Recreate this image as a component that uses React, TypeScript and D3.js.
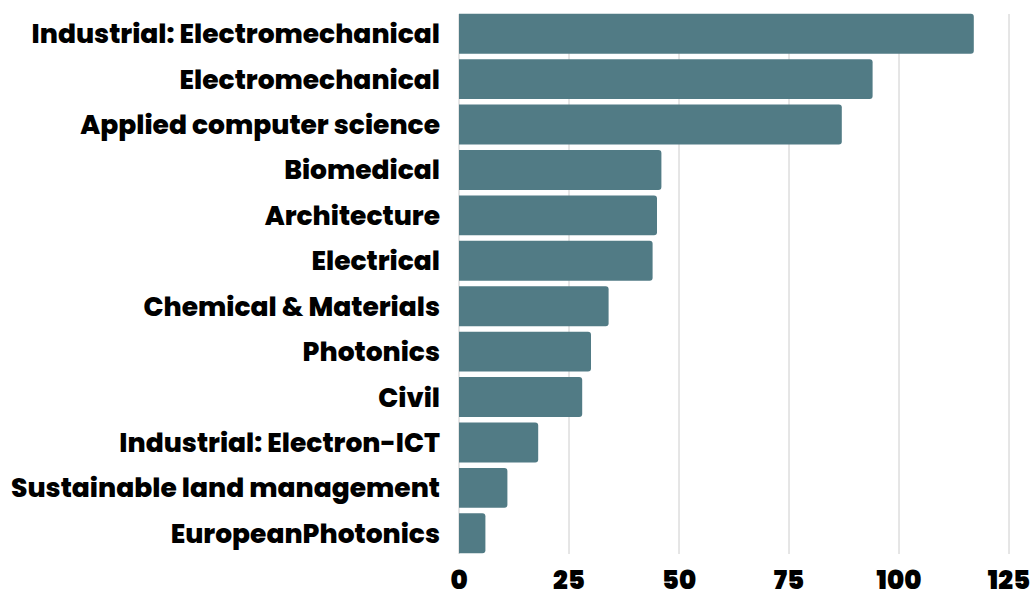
import React from "react";
import * as d3 from "d3";

const categories = [
  "Industrial: Electromechanical",
  "Electromechanical",
  "Applied computer science",
  "Biomedical",
  "Architecture",
  "Electrical",
  "Chemical & Materials",
  "Photonics",
  "Civil",
  "Industrial: Electron-ICT",
  "Sustainable land management",
  "EuropeanPhotonics",
];
const values = [117, 94, 87, 46, 45, 44, 34, 30, 28, 18, 11, 6];
const tickValues = [0, 25, 50, 75, 100, 125];

const W = 1031;
const H = 591;
const FONT = "Poppins, Inter, 'Open Sans', sans-serif";

function barPath(x0: number, y0: number, w: number, h: number, r: number) {
  const rr = Math.min(r, w / 2, h / 2);
  return `M${x0},${y0}H${x0 + w - rr}Q${x0 + w},${y0} ${x0 + w},${y0 + rr}V${y0 + h - rr}Q${x0 + w},${y0 + h} ${x0 + w - rr},${y0 + h}H${x0}Z`;
}

export default function App() {
  const x = d3.scaleLinear().domain([0, 125]).range([459, 1009]);
  const y = d3
    .scaleBand<string>()
    .domain(categories)
    .range([11, 556])
    .paddingInner(0.12)
    .paddingOuter(0.06);
  const bw = y.bandwidth();
  return (
    <svg
      width={W}
      height={H}
      style={{ position: "absolute", left: 0, top: 0, background: "#fff" }}
    >
      <rect x={0} y={0} width={W} height={H} fill="#fff" />
      {tickValues.map((t) => (
        <line
          key={"g" + t}
          x1={x(t)}
          x2={x(t)}
          y1={14}
          y2={554}
          stroke="#cccccc"
          strokeWidth={1}
        />
      ))}
      {categories.map((c, i) => (
        <path
          key={c}
          d={barPath(x(0), y(c)!, x(values[i]) - x(0), bw, 3)}
          fill="#517b85"
        />
      ))}
      {categories.map((c) => (
        <text
          key={"l" + c}
          x={440}
          y={y(c)! + bw / 2}
          dy="0.36em"
          textAnchor="end"
          fontFamily={FONT}
          fontWeight={800}
          fontSize={26.5}
          fill="#000"
        >
          {c}
        </text>
      ))}
      {tickValues.map((t) => (
        <text
          key={"t" + t}
          x={x(t)}
          y={589}
          textAnchor="middle"
          fontFamily={FONT}
          fontWeight={900}
          fontSize={26}
          fill="#000"
        >
          {t}
        </text>
      ))}
    </svg>
  );
}
